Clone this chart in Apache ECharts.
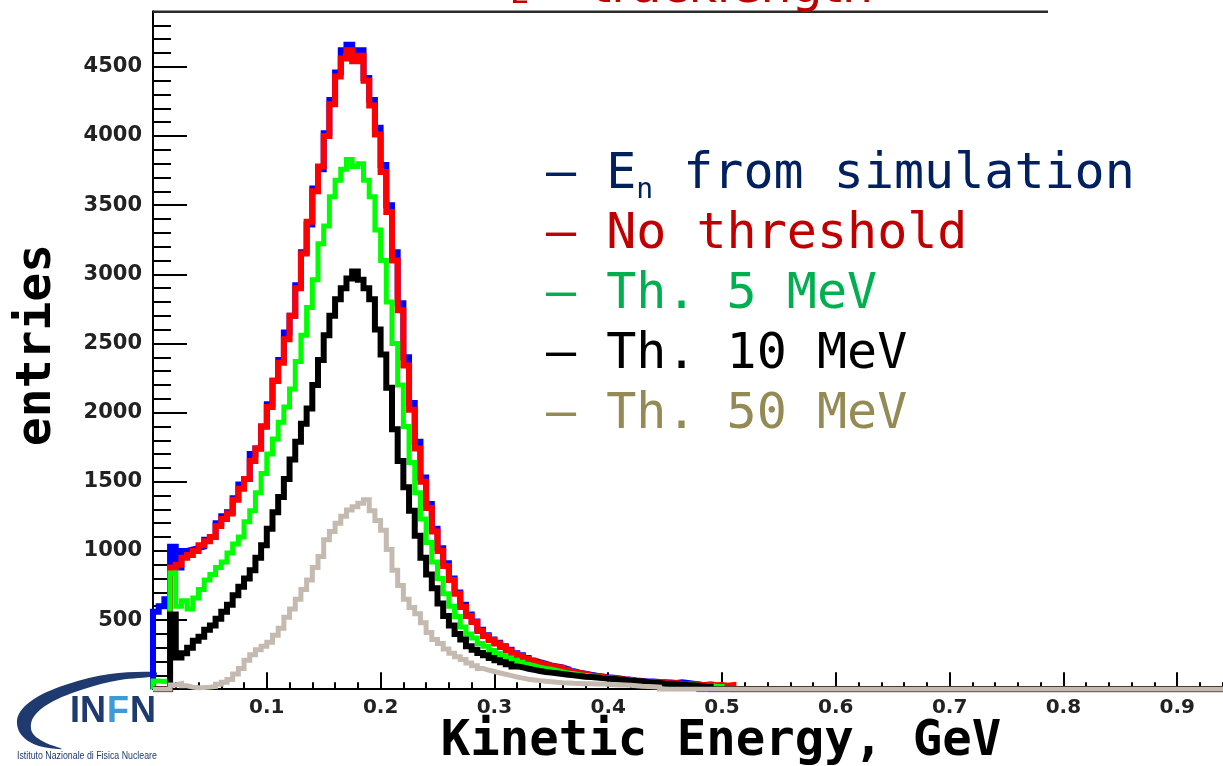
<!DOCTYPE html>
<html>
<head>
<meta charset="utf-8">
<script src="https://cdn.jsdelivr.net/npm/echarts@6/dist/echarts.min.js"></script>
<style>
  html, body { margin: 0; padding: 0; background: #ffffff; }
  #chart { width: 1223px; height: 766px; }
</style>
</head>
<body>
<div id="chart"></div>
<script>
// Histogram binning (GeV): bins start at xRange[0], width binWidth
const binWidth = 0.005;
const xRange = [0, 1.0];
const yRange = [0, 5000];
const xTickStep = 0.1;
const yTickStep = 500;

const seriesNames = ['En from simulation', 'No threshold', 'Th. 5 MeV', 'Th. 10 MeV', 'Th. 50 MeV'];

// entries per bin, first bin = [0, 0.005) GeV
const enSimulation = [560,600,650, 1030,880,1000,1010,1020,1030,1080,1100,1200,1250,1280,
  1380,1480,1520,1700,1740,1900,2060,2230,2380,2580,
  2700,2920,3160,3360,3620,3760,4020,4260,4460,4620,
  4660,4600,4620,4420,4260,4060,3790,3500,3160,2790,
  2400,2070,1790,1530,1340,1160,1020,910,800,700,
  610,540,490,430,390,360,335,310,285,260,
  245,225,208,195,185,172,165,158,145,130,
  120,112,104,97,92,86,82,78,72,68,
  63,60,55,55,52,50,48,45,50,45,
  40,35];

const noThreshold = [0,0,0, 880,900,950,970,1000,1040,1070,1100,1180,1230,1270,
  1370,1450,1520,1650,1740,1900,2040,2230,2360,2530,
  2700,2900,3150,3380,3600,3780,4000,4230,4430,4560,
  4620,4540,4580,4400,4220,4010,3740,3450,3100,2740,
  2340,2020,1740,1500,1310,1140,1000,890,790,690,
  594,530,485,420,385,355,330,305,280,255,
  240,220,205,190,180,170,160,155,140,125,
  118,110,100,95,90,82,80,75,70,67,
  60,55,52,50,48,45,42,45,38,35,
  38,32,30,35,28,30,25,30];

const th5MeV = [60,55,60, 840,600,640,580,660,720,790,830,880,920,985,
  1050,1100,1210,1290,1420,1560,1700,1810,1930,2040,
  2170,2370,2560,2760,2960,3220,3350,3560,3680,3760,
  3830,3780,3800,3680,3560,3320,3100,2800,2500,2200,
  1900,1640,1420,1230,1060,920,800,690,600,525,
  450,400,370,330,310,280,260,240,225,210,
  195,180,170,160,150,145,135,125,118,112,
  105,100,95,88,85,80,75,72,68,65,
  58,55,50,45,42,40,38,35,35,30,
  32,28,25,28,22,20];

const th10MeV = [0,0,0, 540,230,260,300,350,380,430,460,510,560,610,
  680,740,800,860,950,1040,1160,1280,1390,1520,
  1660,1790,1920,2030,2200,2380,2560,2700,2820,2900,
  2970,3020,2960,2900,2820,2600,2420,2180,1880,1650,
  1460,1290,1110,950,830,730,620,530,460,400,
  360,310,285,262,245,225,210,195,180,165,
  158,148,140,132,125,120,115,110,105,100,
  95,90,88,85,80,76,74,70,66,62,
  59,55,50,45,45,40,38,35,33,30,
  28,25,22,20];

const th50MeV = [0,0,0, 30,40,25,15,10,12,15,20,35,50,70,
  110,150,210,250,285,310,340,390,440,520,
  580,650,720,790,880,960,1080,1140,1200,1250,
  1296,1320,1345,1370,1290,1220,1150,1010,860,750,
  650,590,545,480,410,360,330,290,260,235,
  215,190,170,150,138,128,117,108,98,88,
  80,72,67,62,58,54,50,47,45,43,
  42,40,40,38,38,36,33,30,30,28,
  25,22,20,18,15];

const histValues = [enSimulation, noThreshold, th5MeV, th10MeV, th50MeV];
const lineColors = ['#0000ff', '#ff0000', '#00ff00', '#000000', '#c4bab0'];
const lineWidths = [6, 6, 5, 6, 5];
const legendColors = ['#002060', '#c00000', '#00b050', '#000000', '#948a54'];

// ROOT-style outline: rise from zero at the first edge, one flat step per bin,
// drop back to zero after the last filled bin and run along zero to the axis end
function histPoints(values) {
  const pts = [[xRange[0], 0]];
  values.forEach((v, i) => pts.push([xRange[0] + i * binWidth, v]));
  pts.push([xRange[0] + values.length * binWidth, 0]);
  pts.push([xRange[1], 0]);
  return pts;
}

const chart = echarts.init(document.getElementById('chart'), null, { renderer: 'canvas' });

const tickLine = { color: '#000', width: 2 };
const labelFont = { fontFamily: 'DejaVu Sans', fontWeight: 'bold', color: '#222222' };
const monoFont = 'DejaVu Sans Mono';

chart.setOption({
  animation: false,
  backgroundColor: '#ffffff',
  grid: { left: 153, top: -2.3, width: 1138, height: 691.5, containLabel: false, outerBoundsMode: 'none' },
  xAxis: {
    type: 'value', min: xRange[0], max: xRange[1], interval: xTickStep,
    axisLine: { show: true, lineStyle: tickLine },
    axisTick: { show: true, inside: true, length: 17, lineStyle: tickLine },
    minorTick: { show: true, splitNumber: 5, length: 7, lineStyle: tickLine },
    splitLine: { show: false },
    axisLabel: Object.assign({ fontSize: 20, margin: 9, showMinLabel: false, showMaxLabel: false,
      formatter: v => v.toFixed(1) }, labelFont)
  },
  yAxis: {
    type: 'value', min: yRange[0], max: yRange[1], interval: yTickStep,
    axisLine: { show: true, lineStyle: tickLine },
    axisTick: { show: true, inside: true, length: 34, lineStyle: tickLine },
    minorTick: { show: true, splitNumber: 5, length: 18, lineStyle: tickLine },
    splitLine: { show: false },
    axisLabel: Object.assign({ fontSize: 21, margin: 11, showMinLabel: false, showMaxLabel: false,
      formatter: v => String(v) }, labelFont)
  },
  legend: {
    orient: 'vertical', left: 536, top: 140,
    icon: 'none', itemWidth: 0, itemHeight: 10, itemGap: 0,
    selectedMode: false,
    textStyle: { fontFamily: monoFont, fontSize: 50, lineHeight: 60,
      rich: {
        en: { fontFamily: monoFont, fontSize: 50, lineHeight: 60, color: legendColors[0] },
        sub: { fontFamily: monoFont, fontSize: 28, lineHeight: 28, verticalAlign: 'bottom', color: legendColors[0] }
      }
    },
    formatter: name => name === seriesNames[0]
      ? '{en|– E}{sub|n}{en| from simulation}'
      : '– ' + name,
    data: seriesNames.map((n, i) => ({ name: n, textStyle: { color: legendColors[i] } }))
  },
  series: seriesNames.map((n, i) => ({
    type: 'line', name: n,
    data: histPoints(histValues[i]),
    step: 'end',
    showSymbol: false, symbol: 'none',
    color: lineColors[i],
    lineStyle: { color: lineColors[i], width: lineWidths[i], join: 'miter', cap: 'butt' },
    emphasis: { disabled: true },
    z: 2 + i
  })),
  graphic: [
    // axis titles
    { type: 'text', x: 38, y: 345, rotation: Math.PI / 2, z: 50,
      style: { text: 'entries', fontFamily: monoFont, fontWeight: 'bold', fontSize: 48, fill: '#000',
        align: 'center', verticalAlign: 'middle' } },
    { type: 'text', x: 721, y: 742, z: 50,
      style: { text: 'Kinetic Energy, GeV', fontFamily: monoFont, fontWeight: 'bold', fontSize: 49, fill: '#000',
        align: 'center', verticalAlign: 'middle' } },
    // frame top edge and the bit of axis hidden above it
    { type: 'rect', z: 40, shape: { x: 140, y: -6, width: 20, height: 16.5 }, style: { fill: '#ffffff' } },
    { type: 'line', z: 41, shape: { x1: 153, y1: 11.7, x2: 1048, y2: 11.7 }, style: { stroke: '#2b2b2b', lineWidth: 2.5 } },
    // slide title, mostly above the visible area
    { type: 'text', x: 510, y: -5, z: 50,
      style: { text: 'Σ', fontFamily: 'DejaVu Sans', fontSize: 30, fill: '#c00000', verticalAlign: 'middle' } },
    { type: 'text', x: 552, y: -11, z: 50,
      style: { text: '– tracklength', fontFamily: 'DejaVu Sans', fontSize: 49, fill: '#c00000', verticalAlign: 'middle' } },
    // INFN logo
    { type: 'group', z: 60, children: [
      { type: 'rect', shape: { x: 0, y: 671, width: 158, height: 95 }, style: { fill: '#ffffff' } },
      { type: 'polygon', shape: { smooth: 0.35, points: [
          [156, 672], [110, 674], [68, 684], [34, 699], [18, 716], [20, 733], [36, 745], [62, 749],
          [44, 742], [32, 732], [33, 718], [50, 703], [84, 689], [120, 680], [156, 676]] },
        style: { fill: '#1f3a6e' } },
      { type: 'text', x: 70, y: 712, style: { text: 'IN', fontFamily: 'Liberation Sans', fontWeight: 'bold', fontSize: 36, fill: '#1f3a6e', verticalAlign: 'middle' } },
      { type: 'text', x: 107, y: 712, style: { text: 'F', fontFamily: 'Liberation Sans', fontWeight: 'bold', fontSize: 36, fill: '#3d9bd6', verticalAlign: 'middle' } },
      { type: 'text', x: 130, y: 712, style: { text: 'N', fontFamily: 'Liberation Sans', fontWeight: 'bold', fontSize: 36, fill: '#1f3a6e', verticalAlign: 'middle' } },
      { type: 'text', x: 17, y: 756, scaleX: 0.8, style: { text: 'Istituto Nazionale di Fisica Nucleare', fontFamily: 'Liberation Sans', fontSize: 11, fill: '#1f3a6e', verticalAlign: 'middle' } }
    ] }
  ]
});
</script>
</body>
</html>
